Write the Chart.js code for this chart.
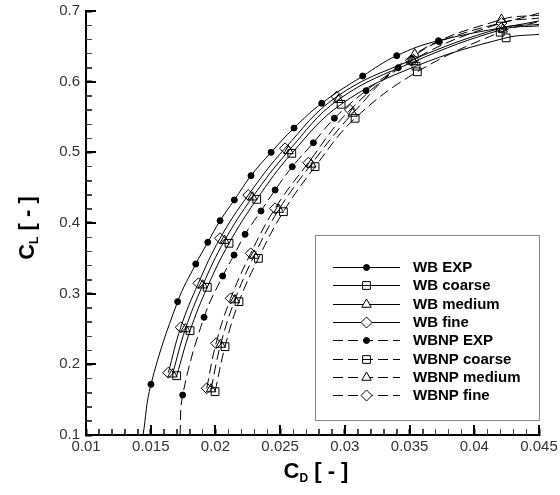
<!DOCTYPE html>
<html>
<head>
<meta charset="utf-8">
<script src="https://cdn.jsdelivr.net/npm/chart.js@4/dist/chart.umd.min.js"></script>
<style>
    html, body { margin: 0; padding: 0; background: #fff; }
</style>
</head>
<body>
<canvas id="polar-chart" width="560" height="495"></canvas>
<script>
const seriesLabels = ["WB EXP", "WB coarse", "WB medium", "WB fine",
    "WBNP EXP", "WBNP coarse", "WBNP medium", "WBNP fine"];

// measured points (markers)
const wbExpCd = [0.01502, 0.01708, 0.01848, 0.01941, 0.02036, 0.02146, 0.02275,
    0.0243, 0.02607, 0.02821, 0.03138, 0.03401, 0.03723];
const wbExpCl = [0.1717, 0.2887, 0.342, 0.3727, 0.4033, 0.4326, 0.467,
    0.5, 0.5344, 0.5694, 0.608, 0.6368, 0.658];
const wbnpExpCd = [0.01747, 0.01912, 0.02056, 0.02144, 0.02229, 0.02352, 0.02461,
    0.02594, 0.02757, 0.02919, 0.03164, 0.03413, 0.0373];
const wbnpExpCl = [0.1566, 0.2666, 0.325, 0.3547, 0.384, 0.417, 0.4467,
    0.4797, 0.5136, 0.5482, 0.5872, 0.6198, 0.6566];

// CFD points
const wbCoarseCd = [0.01701, 0.01804, 0.01937, 0.02105, 0.02319, 0.0259, 0.02971, 0.0355, 0.04246];
const wbCoarseCl = [0.1839, 0.2476, 0.309, 0.3713, 0.4335, 0.4986, 0.568, 0.622, 0.662];
const wbMediumCd = [0.01668, 0.01768, 0.01902, 0.0207, 0.02286, 0.02565, 0.0295, 0.0353, 0.0422];
const wbMediumCl = [0.186, 0.25, 0.312, 0.375, 0.4365, 0.502, 0.5745, 0.628, 0.674];
const wbFineCd = [0.01636, 0.01732, 0.01868, 0.02036, 0.02254, 0.02538, 0.02937, 0.0351, 0.0421];
const wbFineCl = [0.1882, 0.2524, 0.3147, 0.3784, 0.4396, 0.5057, 0.5787, 0.630, 0.676];
const wbnpCoarseCd = [0.01997, 0.02074, 0.02182, 0.02332, 0.02525, 0.0277, 0.03079, 0.0356, 0.0420];
const wbnpCoarseCl = [0.1613, 0.225, 0.2887, 0.35, 0.416, 0.4797, 0.5482, 0.614, 0.670];
const wbnpMediumCd = [0.01966, 0.0204, 0.0215, 0.023, 0.0249, 0.0274, 0.0306, 0.0354, 0.0421];
const wbnpMediumCl = [0.165, 0.228, 0.291, 0.354, 0.419, 0.483, 0.555, 0.639, 0.688];
const wbnpFineCd = [0.01933, 0.02005, 0.02118, 0.02273, 0.02461, 0.02718, 0.0304, 0.0353, 0.0421];
const wbnpFineCl = [0.1661, 0.2298, 0.2934, 0.3571, 0.4208, 0.4853, 0.56, 0.631, 0.683];

// where each curve leaves the plot (no marker there)
const fitStartCd = [0.01441, null, null, null, 0.01726, null, null, null];
const fitStartCl = [0.1, null, null, null, 0.1, null, null, null];
const fitEndCd = [0.045, 0.045, 0.045, 0.045, 0.045, 0.045, 0.045, 0.045];
const fitEndCl = [0.686, 0.667, 0.679, 0.681, 0.697, 0.685, 0.694, 0.690];

// tick labels (major ticks) and minor tick counts
const xTickLabels = ["0.01", "0.015", "0.02", "0.025", "0.03", "0.035", "0.04", "0.045"];
const yTickLabels = ["0.1", "0.2", "0.3", "0.4", "0.5", "0.6", "0.7"];
const xMinorCount = 35;   // 0.001 apart
const yMinorCount = 30;   // 0.02 apart

// -------------- Building the datasets --------------
const seriesCd = [wbExpCd, wbCoarseCd, wbMediumCd, wbFineCd, wbnpExpCd, wbnpCoarseCd, wbnpMediumCd, wbnpFineCd];
const seriesCl = [wbExpCl, wbCoarseCl, wbMediumCl, wbFineCl, wbnpExpCl, wbnpCoarseCl, wbnpMediumCl, wbnpFineCl];
const shapes = ["circle", "rect", "triangle", "rectRot"];
const shapeSize = { circle: 3, rect: 5.5, triangle: 5.5, rectRot: 5.5 };

const datasets = seriesLabels.map((label, i) => {
    const shape = shapes[i % 4];
    const points = seriesCd[i].map((cd, j) => ({ x: cd, y: seriesCl[i][j] }));
    const radius = points.map(() => shapeSize[shape]);
    if (fitStartCd[i] !== null) {
        points.unshift({ x: fitStartCd[i], y: fitStartCl[i] });
        radius.unshift(0);
    }
    points.push({ x: fitEndCd[i], y: fitEndCl[i] });
    radius.push(0);
    return {
        label: label,
        data: points,
        showLine: true,
        tension: 0.4,
        borderColor: '#000',
        borderWidth: 1,
        borderDash: i < 4 ? [] : [10, 5],
        pointStyle: shape,
        pointRadius: radius,
        pointHoverRadius: radius,
        pointBorderWidth: 1,
        pointBorderColor: '#000',
        pointBackgroundColor: shape === 'circle' ? '#000' : 'rgba(0,0,0,0)'
    };
});

// helpers for the tick marks (every minor step, labels only on majors)
function minorTicks(scale, count) {
    const step = (scale.max - scale.min) / count;
    const ticks = [];
    for (let k = 0; k <= count; k++) ticks.push({ value: scale.min + k * step });
    return ticks;
}
function labelFor(labels, v) {
    const hit = labels.find(t => Math.abs(+t - v) < 1e-9);
    return hit === undefined ? '' : hit;
}
function isMajor(labels, c) {
    return !!(c.tick && labelFor(labels, c.tick.value) !== '');
}

// -------------- Plugins: boxed legend, axis titles, tick marks --------------
const boxLegend = {
    id: 'boxLegend',
    afterDraw(chart) {
        const ctx = chart.ctx;
        ctx.save();
        ctx.fillStyle = '#fff';
        ctx.fillRect(315.5, 235.5, 224, 185);
        ctx.strokeStyle = '#8a8a8a';
        ctx.lineWidth = 1;
        ctx.strokeRect(315.5, 235.5, 224, 185);
        chart.data.datasets.forEach((ds, i) => {
            const yy = Math.round(267 + i * 18.35) + 0.5;
            ctx.strokeStyle = '#000';
            ctx.lineWidth = 1;
            ctx.setLineDash(ds.borderDash);
            ctx.beginPath();
            ctx.moveTo(333, yy);
            ctx.lineTo(400, yy);
            ctx.stroke();
            ctx.setLineDash([]);
            ctx.fillStyle = ds.pointStyle === 'circle' ? '#000' : (ds.pointStyle === 'rect' ? 'rgba(0,0,0,0)' : '#fff');
            Chart.helpers.drawPoint(ctx, {
                pointStyle: ds.pointStyle,
                radius: shapeSize[ds.pointStyle],
                borderWidth: 1,
                rotation: 0
            }, 366.5, yy);
            ctx.fillStyle = '#000';
            ctx.font = 'bold 15px "Liberation Sans", Arial, sans-serif';
            ctx.textBaseline = 'middle';
            ctx.textAlign = 'left';
            ctx.fillText(ds.label, 413, yy);
        });
        ctx.restore();
    }
};

function subTitle(ctx, sub, cx, cy) {
    const big = 'bold 22px "Liberation Sans", Arial, sans-serif';
    const small = 'bold 12px "Liberation Sans", Arial, sans-serif';
    ctx.font = big;
    const wC = ctx.measureText('C').width;
    const wRest = ctx.measureText(' [ - ]').width;
    ctx.font = small;
    const wSub = ctx.measureText(sub).width;
    const x0 = cx - (wC + wSub + wRest) / 2;
    ctx.textAlign = 'left';
    ctx.textBaseline = 'alphabetic';
    ctx.font = big;
    ctx.fillText('C', x0, cy);
    ctx.font = small;
    ctx.fillText(sub, x0 + wC, cy + 4);
    ctx.font = big;
    ctx.fillText(' [ - ]', x0 + wC + wSub, cy);
}

const axisTitles = {
    id: 'axisTitles',
    afterDraw(chart) {
        const ctx = chart.ctx;
        ctx.save();
        ctx.fillStyle = '#000';
        subTitle(ctx, 'D', 316, 478);
        ctx.translate(34, 228);
        ctx.rotate(-Math.PI / 2);
        subTitle(ctx, 'L', 0, 0);
        ctx.restore();
    }
};

// inward tick marks painted as small filled bars at the scale's own positions
const tickBars = {
    id: 'tickBars',
    afterDraw(chart) {
        const ctx = chart.ctx;
        const a = chart.chartArea;
        const xs = chart.scales.x;
        const ys = chart.scales.y;
        const bottom = Math.round(a.bottom);
        const left = Math.round(a.left);
        ctx.save();
        xs.ticks.forEach(t => {
            const px = Math.round(xs.getPixelForValue(t.value));
            const major = labelFor(xTickLabels, t.value) !== '';
            ctx.fillStyle = major ? '#000' : '#444';
            if (major) ctx.fillRect(px - 1, bottom - 10, 2, 10);
            else ctx.fillRect(px, bottom - 6, 1, 6);
        });
        ys.ticks.forEach(t => {
            const py = Math.round(ys.getPixelForValue(t.value));
            const major = labelFor(yTickLabels, t.value) !== '';
            ctx.fillStyle = major ? '#000' : '#444';
            if (major) ctx.fillRect(left, py - 1, 10, 2);
            else ctx.fillRect(left, py, 6, 1);
        });
        ctx.restore();
    }
};

// -------------- Creating the chart --------------
const polarCanvas = document.getElementById('polar-chart');
const polarChart = new Chart(polarCanvas, {
    type: 'scatter',
    data: { datasets: datasets },
    options: {
        responsive: false,
        animation: false,
        layout: { padding: { top: 11, right: 21, left: 0, bottom: 0 } },
        plugins: {
            legend: { display: false },
            tooltip: { enabled: false }
        },
        scales: {
            x: {
                type: 'linear',
                min: 0.01,
                max: 0.045,
                afterFit: s => { s.height = 60; s.paddingLeft = 0; s.paddingRight = 0; },
                afterBuildTicks: s => { s.ticks = minorTicks(s, xMinorCount); },
                grid: {
                    display: true,
                    drawOnChartArea: false,
                    drawTicks: true,
                    tickLength: -6,
                    tickColor: c => isMajor(xTickLabels, c) ? '#000' : '#444',
                    tickWidth: c => isMajor(xTickLabels, c) ? 2 : 1
                },
                border: { display: true, color: '#000', width: 2 },
                ticks: {
                    padding: 9,
                    color: '#333',
                    autoSkip: false,
                    maxRotation: 0,
                    font: { family: '"Liberation Sans", Arial, sans-serif', size: 15 },
                    callback: v => labelFor(xTickLabels, v)
                }
            },
            y: {
                type: 'linear',
                min: 0.1,
                max: 0.7,
                afterFit: s => { s.width = 86; s.paddingTop = 0; s.paddingBottom = 0; },
                afterBuildTicks: s => { s.ticks = minorTicks(s, yMinorCount); },
                grid: {
                    display: true,
                    drawOnChartArea: false,
                    drawTicks: true,
                    tickLength: -6,
                    tickColor: c => isMajor(yTickLabels, c) ? '#000' : '#444',
                    tickWidth: c => isMajor(yTickLabels, c) ? 2 : 1
                },
                border: { display: true, color: '#000', width: 2 },
                ticks: {
                    padding: 12,
                    color: '#333',
                    autoSkip: false,
                    font: { family: '"Liberation Sans", Arial, sans-serif', size: 15 },
                    callback: v => labelFor(yTickLabels, v)
                }
            }
        }
    },
    plugins: [boxLegend, axisTitles, tickBars]
});
</script>
</body>
</html>
